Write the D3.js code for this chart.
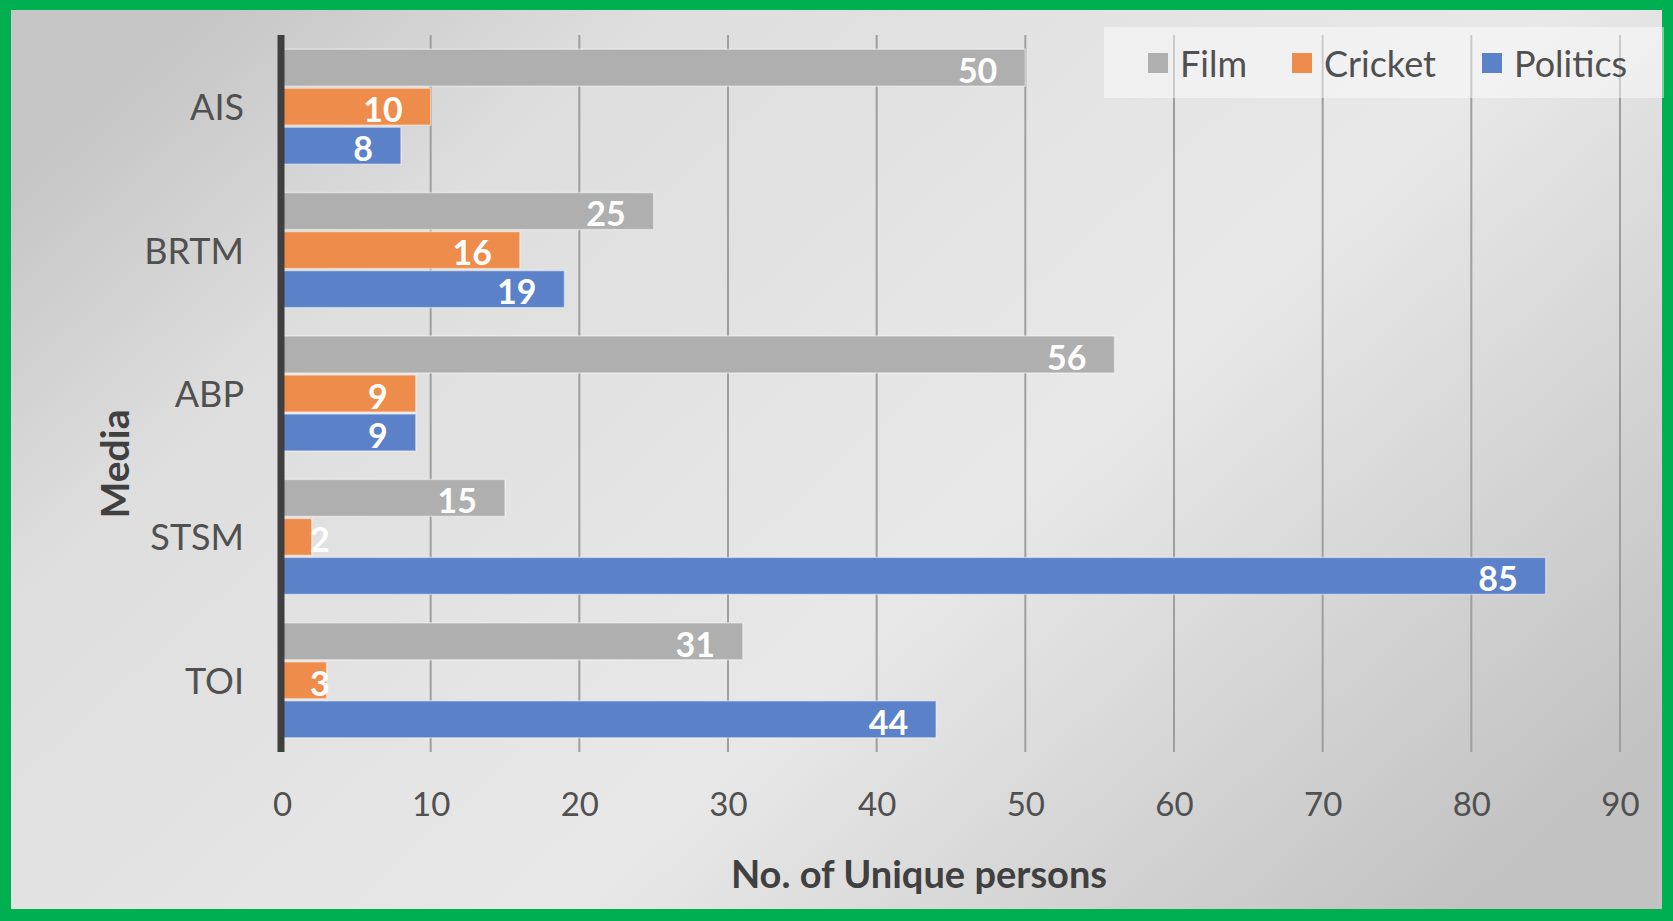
<!DOCTYPE html>
<html><head><meta charset="utf-8">
<script src="https://cdn.jsdelivr.net/npm/d3@7"></script>
<style>html,body{margin:0;padding:0;background:#fff;}svg{display:block;}</style>
</head><body>
<script>
const categories = ["AIS", "BRTM", "ABP", "STSM", "TOI"];
const seriesNames = ["Film", "Cricket", "Politics"];
const film = [50, 25, 56, 15, 31];
const cricket = [10, 16, 9, 2, 3];
const politics = [8, 19, 9, 85, 44];
const xTicks = [0, 10, 20, 30, 40, 50, 60, 70, 80, 90];
const colors = ["#afafaf", "#ee8d4b", "#5b81c8"];
const seriesValues = [film, cricket, politics];

const W = 1673, H = 921;
const svg = d3.select("body").append("svg").attr("width", W).attr("height", H);
const defs = svg.append("defs");
const g1 = defs.append("linearGradient").attr("id","bg").attr("x1","0").attr("y1","0.2").attr("x2","1").attr("y2","0.8");
g1.append("stop").attr("offset","0").attr("stop-color","#c6c6c6");
g1.append("stop").attr("offset","0.2").attr("stop-color","#dedede");
g1.append("stop").attr("offset","0.6").attr("stop-color","#e8e8e8");
g1.append("stop").attr("offset","1").attr("stop-color","#c2c2c2");

svg.append("rect").attr("x",0).attr("y",0).attr("width",W).attr("height",H).attr("fill","#00b050");
svg.append("rect").attr("x",11).attr("y",10).attr("width",W-22).attr("height",H-22).attr("fill","url(#bg)");

const font = "Lato, 'Open Sans', sans-serif";
const x = d3.scaleLinear().domain([0, 90]).range([282, 1620]);
const y = d3.scaleBand().domain(categories).range([35, 752]).paddingInner(0.184).paddingOuter(0.092);
const ys = d3.scaleBand().domain(seriesNames).range([0, y.bandwidth()]);

// gridlines
svg.append("g").selectAll("line").data(xTicks.slice(1)).join("line")
  .attr("x1", d => x(d)).attr("x2", d => x(d)).attr("y1", 35).attr("y2", 752)
  .attr("stroke", "#9e9e9e").attr("stroke-width", 2);

// tick labels via axis
const xAxis = d3.axisBottom(x).tickValues(xTicks).tickSize(0).tickPadding(0);
const ax = svg.append("g").attr("transform", "translate(0,792)").call(xAxis);
ax.select(".domain").remove();
ax.selectAll("text").attr("font-family", font).attr("font-size", 33).attr("fill", "#505050").attr("dy", "0.72em");

// bars
seriesNames.forEach((s, si) => {
  const gg = svg.append("g");
  gg.selectAll("rect").data(categories).join("rect")
    .attr("x", x(0)).attr("y", c => y(c) + ys(s) + 1)
    .attr("width", (c, i) => x(seriesValues[si][i]) - x(0))
    .attr("height", ys.bandwidth() - 2)
    .attr("fill", colors[si]).attr("stroke", "rgba(255,255,255,0.45)").attr("stroke-width", 1.5);
});
// labels
seriesNames.forEach((s, si) => {
  const gg = svg.append("g");
  gg.selectAll("text").data(categories).join("text")
    .attr("y", c => y(c) + ys(s) + ys.bandwidth() / 2)
    .attr("dy", "0.45em")
    .attr("text-anchor", "end")
    .attr("font-family", font).attr("font-weight", "bold").attr("font-size", 34).attr("fill", "#fff")
    .text((c, i) => seriesValues[si][i])
    .each(function(c, i) {
      const w = this.getComputedTextLength();
      const xe = Math.max(x(seriesValues[si][i]) - 28, x(0) + 28 + w);
      d3.select(this).attr("x", xe);
    });
});

// y axis line
svg.append("line").attr("x1", 281).attr("x2", 281).attr("y1", 35).attr("y2", 752)
  .attr("stroke", "#3f3f3f").attr("stroke-width", 7);

// category labels
const yAxis = d3.axisLeft(y).tickSize(0).tickPadding(0);
const ay = svg.append("g").attr("transform", "translate(244,2)").call(yAxis);
ay.select(".domain").remove();
ay.selectAll("text").attr("font-family", font).attr("font-size", 36).attr("fill", "#505050");

// titles
svg.append("text").attr("x", 919).attr("y", 888).attr("text-anchor", "middle")
  .attr("font-family", font).attr("font-weight", "bold").attr("font-size", 38).attr("fill", "#404040")
  .text("No. of Unique persons");
svg.append("text").attr("transform", "translate(129,464) rotate(-90)").attr("text-anchor", "middle")
  .attr("font-family", font).attr("font-weight", "bold").attr("font-size", 39).attr("fill", "#404040")
  .text("Media");

// legend
const lg = svg.append("g");
lg.append("rect").attr("x", 1104).attr("y", 27).attr("width", 560).attr("height", 71)
  .attr("fill", "rgba(255,255,255,0.45)");
const legX = [1148, 1292, 1482];
seriesNames.forEach((s, i) => {
  lg.append("rect").attr("x", legX[i]).attr("y", 53).attr("width", 20).attr("height", 20).attr("fill", colors[i]);
  lg.append("text").attr("x", legX[i] + 32).attr("y", 64).attr("dy", "0.36em")
    .attr("font-family", font).attr("font-size", 36).attr("fill", "#505050").text(s);
});
</script>
</body></html>
